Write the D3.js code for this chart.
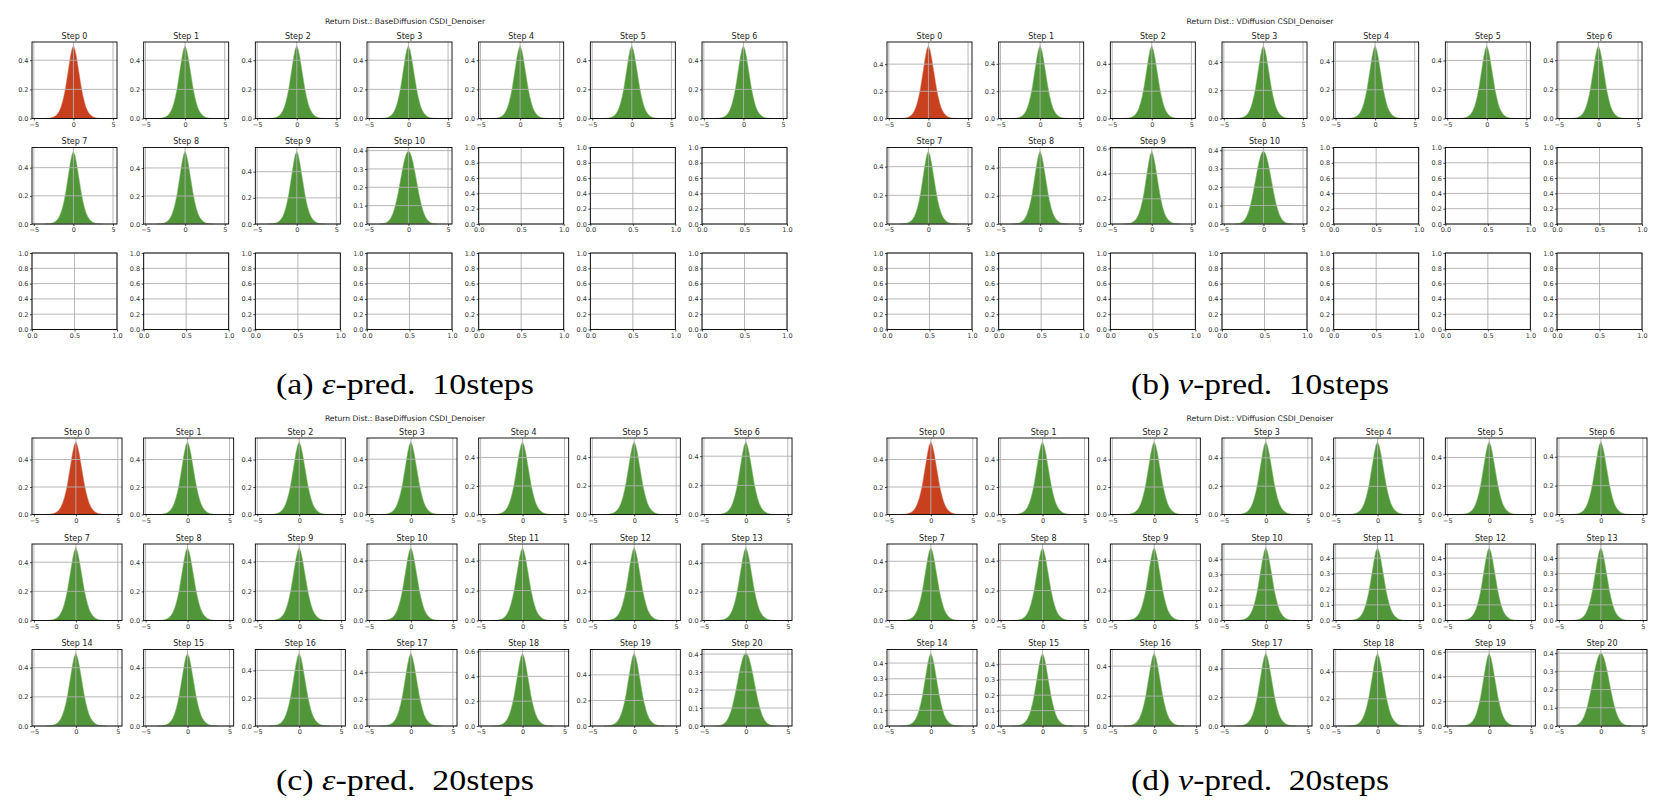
<!DOCTYPE html>
<html><head><meta charset="utf-8">
<script src="https://cdn.jsdelivr.net/npm/d3@7"></script>
<style>body{margin:0;background:#fff}</style>
</head><body>
<svg id="fig" width="1675" height="809"></svg>
<script>
// ---------------- DATA ----------------
const binCenters = [-3.6,-3.4,-3.2,-3.0,-2.8,-2.6,-2.4,-2.2,-2.0,-1.8,-1.6,-1.4,-1.2,-1.0,-0.8,-0.6,-0.4,-0.2,0,
  0.2,0.4,0.6,0.8,1.0,1.2,1.4,1.6,1.8,2.0,2.2,2.4,2.6,2.8,3.0,3.2,3.4,3.6];
const profilePeaked = [0.0005,0.001,0.002,0.003,0.005,0.008,0.013,0.021,0.033,0.050,0.075,0.110,0.155,0.210,0.280,0.350,0.420,0.475,0.500,
  0.472,0.418,0.350,0.282,0.212,0.157,0.112,0.076,0.051,0.034,0.022,0.014,0.008,0.005,0.003,0.002,0.001,0.0005];
// final-step distribution (peak ~0.4, gaussian-like)
const profileFinal = [0.0006,0.0012,0.0024,0.0044,0.0079,0.0136,0.022,0.035,0.054,0.079,0.111,0.150,0.194,0.242,0.290,0.333,0.368,0.391,0.399,
  0.391,0.368,0.333,0.290,0.242,0.194,0.150,0.111,0.079,0.054,0.035,0.022,0.0136,0.0079,0.0044,0.0024,0.0012,0.0006];

const histXTicks = [-5, 0, 5];
const emptyXTicks = [0, 0.5, 1];
const emptyYTicks = [0, 0.2, 0.4, 0.6, 0.8, 1.0];

const titleBase = "Return Dist.: BaseDiffusion CSDI_Denoiser";
const titleV = "Return Dist.: VDiffusion CSDI_Denoiser";

// peak density per step
const peaksA = [0.50,0.50,0.50,0.50,0.50,0.50,0.50,0.517,0.52,0.557,0.397];
const peaksB = [0.536,0.533,0.533,0.517,0.508,0.502,0.50,0.508,0.517,0.579,0.395];
const peaksC = [0.53,0.53,0.53,0.527,0.511,0.508,0.50,0.50,0.50,0.495,0.486,0.487,0.50,0.505,0.50,0.50,0.524,0.543,0.587,0.57,0.405];
const peaksD = [0.53,0.53,0.53,0.514,0.517,0.511,0.505,0.492,0.487,0.486,0.476,0.467,0.467,0.467,0.463,0.473,0.487,0.507,0.536,0.59,0.40];
// y tick spacing per step
const yStepA = [0.2,0.2,0.2,0.2,0.2,0.2,0.2,0.2,0.2,0.2,0.1];
const yStepB = [0.2,0.2,0.2,0.2,0.2,0.2,0.2,0.2,0.2,0.2,0.1];
const yStepC = [0.2,0.2,0.2,0.2,0.2,0.2,0.2,0.2,0.2,0.2,0.2,0.2,0.2,0.2,0.2,0.2,0.2,0.2,0.2,0.2,0.1];
const yStepD = [0.2,0.2,0.2,0.2,0.2,0.2,0.2,0.2,0.2,0.2,0.1,0.1,0.1,0.1,0.1,0.1,0.2,0.2,0.2,0.2,0.1];
// shape per step: 'p' peaked, 'f' final
const shapeA = ['p','p','p','p','p','p','p','p','p','p','f'];
const shapeB = ['p','p','p','p','p','p','p','p','p','p','f'];
const shapeC = ['p','p','p','p','p','p','p','p','p','p','p','p','p','p','p','p','p','p','p','p','f'];
const shapeD = ['p','p','p','p','p','p','p','p','p','p','p','p','p','p','p','p','p','p','p','p','f'];

const captionA = ["(a) ", "ε", "-pred.  10steps"];
const captionB = ["(b) ", "v", "-pred.  10steps"];
const captionC = ["(c) ", "ε", "-pred.  20steps"];
const captionD = ["(d) ", "v", "-pred.  20steps"];

// ---------------- LAYOUT ----------------
const COLORS = {first:"#c8401e", rest:"#52963a", grid:"#b0b0b0"};
const SANS = "'DejaVu Sans', sans-serif";
const SERIF = "'Liberation Serif', 'DejaVu Serif', serif";

const panels = [
  {ox:0,   rowTops:[42,147.5,253], w:85, h:76.5, title:titleBase, peaks:peaksA, ysteps:yStepA, shapes:shapeA, caption:captionA, supY:24,  capX:405,  capY:394},
  {ox:855, rowTops:[42,147.5,253], w:85, h:76.5, title:titleV,    peaks:peaksB, ysteps:yStepB, shapes:shapeB, caption:captionB, supY:24,  capX:1260, capY:394},
  {ox:0,   rowTops:[438,544,649.5], w:90, h:76.5, title:titleBase, peaks:peaksC, ysteps:yStepC, shapes:shapeC, caption:captionC, supY:421, capX:405,  capY:790},
  {ox:855, rowTops:[438,544,649.5], w:90, h:76.5, title:titleV,    peaks:peaksD, ysteps:yStepD, shapes:shapeD, caption:captionD, supY:421, capX:1260, capY:790},
];
const COLS = 7, ROWS = 3, COL0 = 32, PITCH = 111.67;

const svg = d3.select("#fig");
svg.append("rect").attr("width",1675).attr("height",809).attr("fill","#fff");

function styleAxis(g){
  g.select(".domain").remove();
  g.selectAll(".tick line").attr("stroke","#000").attr("stroke-width",0.7);
  g.selectAll(".tick text").attr("fill","#333").attr("font-size","6.5px").attr("font-family",SANS);
}

panels.forEach(P => {
  const pc = P.ox + 405;
  svg.append("text").attr("x", pc).attr("y", P.supY).attr("text-anchor","middle")
    .attr("font-family",SANS).attr("font-size","7.6px").attr("fill","#222").text(P.title);

  const cap = svg.append("text").attr("x", P.capX).attr("y", P.capY).attr("text-anchor","middle")
    .attr("font-family",SERIF).attr("font-size","30px").attr("fill","#000")
    .attr("textLength", 258).attr("lengthAdjust","spacingAndGlyphs");
  cap.append("tspan").text(P.caption[0]);
  cap.append("tspan").attr("font-style","italic").text(P.caption[1]);
  cap.append("tspan").attr("xml:space","preserve").text(P.caption[2]);

  for (let k = 0; k < ROWS*COLS; k++) {
    const r = Math.floor(k / COLS), c = k % COLS;
    const left = P.ox + COL0 + c*PITCH, top = P.rowTops[r];
    const w = P.w, h = P.h;
    const g = svg.append("g").attr("transform",`translate(${left},${top})`);
    const hasData = k < P.peaks.length;

    let x, y, xt, yt;
    if (hasData) {
      const peak = P.peaks[k];
      const prof = P.shapes[k] === 'f' ? profileFinal : profilePeaked;
      const pmax = d3.max(prof);
      const yTop = peak * 1.05;
      x = d3.scaleLinear().domain([-5.23, 5.5]).range([0, w]);
      y = d3.scaleLinear().domain([0, yTop]).range([h, 0]);
      xt = histXTicks;
      yt = d3.range(0, yTop + 1e-9, P.ysteps[k]).map(v => +v.toFixed(2));
      const pts = binCenters.map((bc,i) => ({x: bc, v: prof[i] * peak / pmax}));
      const area = d3.area().curve(d3.curveLinear)
        .x(d => x(d.x)).y0(h).y1(d => y(d.v));
      g.append("path").datum(pts).attr("d", area)
        .attr("fill", k === 0 ? COLORS.first : COLORS.rest)
        .attr("stroke", k === 0 ? "#d9826a" : "#8cc07a").attr("stroke-width",0.5);
      g.append("text").attr("x", w/2).attr("y", -3.5).attr("text-anchor","middle")
        .attr("font-family",SANS).attr("font-size","8px").attr("fill","#222").text("Step " + k);
    } else {
      x = d3.scaleLinear().domain([0,1]).range([0,w]);
      y = d3.scaleLinear().domain([0,1]).range([h,0]);
      xt = emptyXTicks; yt = emptyYTicks;
    }
    // grid
    g.append("g").selectAll("line").data(xt).join("line")
      .attr("x1", d => x(d)).attr("x2", d => x(d)).attr("y1",0).attr("y2",h)
      .attr("stroke",COLORS.grid).attr("stroke-width",0.9);
    g.append("g").selectAll("line").data(yt).join("line")
      .attr("y1", d => y(d)).attr("y2", d => y(d)).attr("x1",0).attr("x2",w)
      .attr("stroke",COLORS.grid).attr("stroke-width",0.9);
    // axes
    const ax = g.append("g").attr("transform",`translate(0,${h})`)
      .call(d3.axisBottom(x).tickValues(xt).tickSize(2).tickPadding(1.5)
        .tickFormat(hasData ? d3.format("d") : d3.format(".1f")));
    styleAxis(ax);
    const ay = g.append("g")
      .call(d3.axisLeft(y).tickValues(yt).tickSize(2).tickPadding(1.5).tickFormat(d3.format(".1f")));
    styleAxis(ay);
    // spines
    g.append("rect").attr("x",0).attr("y",0).attr("width",w).attr("height",h)
      .attr("fill","none").attr("stroke","#000").attr("stroke-width",0.9);
  }
});
</script>
</body></html>
